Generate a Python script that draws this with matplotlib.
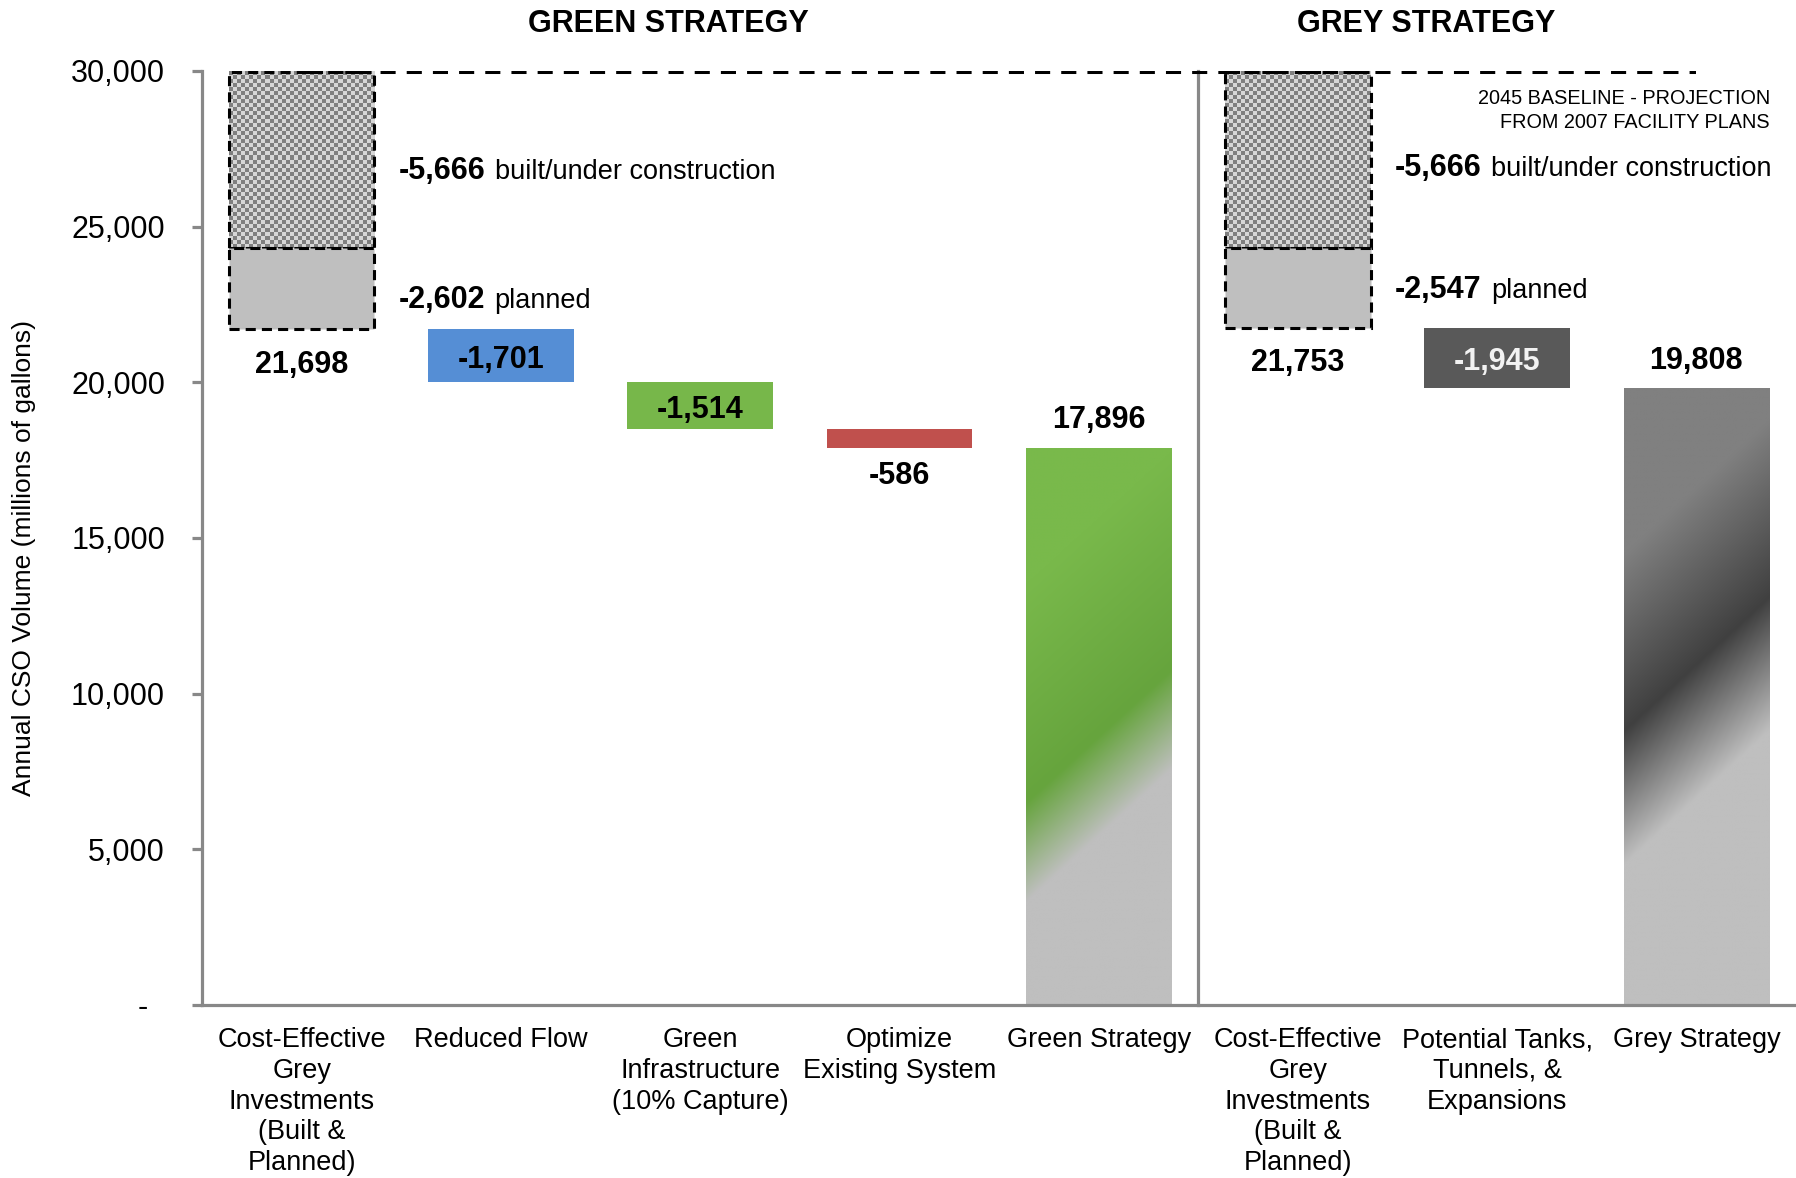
import numpy as np
import matplotlib
matplotlib.use("Agg")
import matplotlib.pyplot as plt
from matplotlib.colors import to_rgb, ListedColormap
from matplotlib.transforms import blended_transform_factory

plt.rcParams["font.family"] = ["Liberation Sans", "DejaVu Sans"]

# ---- data ----
categories = [
    "Cost-Effective\nGrey\nInvestments\n(Built &\nPlanned)",
    "Reduced Flow",
    "Green\nInfrastructure\n(10% Capture)",
    "Optimize\nExisting System",
    "Green Strategy",
    "Cost-Effective\nGrey\nInvestments\n(Built &\nPlanned)",
    "Potential Tanks,\nTunnels, &\nExpansions",
    "Grey Strategy",
]
baseline_2045 = 29966
built_reduction = [5666, 5666]          # green, grey
planned_reduction = [2602, 2547]        # green, grey
green_steps = [1701, 1514, 586]
green_step_colors = ["#558ED5", "#77B74A", "#C0504D"]
green_total = 17896
grey_steps = [1945]
grey_step_colors = ["#595959"]
grey_total = 19808
ytick_values = [0, 5000, 10000, 15000, 20000, 25000, 30000]
ytick_labels = ["-  ", "5,000", "10,000", "15,000", "20,000", "25,000", "30,000"]

PX = 0.72  # points per pixel at 100 dpi
W = 0.73
NUDGE = -4.5 * PX  # visual centring of bold numerals

fig = plt.figure(figsize=(17.96, 11.78), dpi=100)
ax = fig.add_axes([0.1125, 0.1469, 0.8875, 0.7929])
ax.set_xlim(-0.5, 7.5)
ax.set_ylim(0, 30000)

dash_box = (0, (3.3, 2.0))


def checker_fill(ax, patch, cell_px=4):
    x0, y0 = patch.get_x(), patch.get_y()
    w, h = patch.get_width(), patch.get_height()
    p0 = ax.transData.transform((x0, y0))
    p1 = ax.transData.transform((x0 + w, y0 + h))
    nx = max(1, int(round(abs(p1[0] - p0[0]) / cell_px)))
    ny = max(1, int(round(abs(p1[1] - p0[1]) / cell_px)))
    grid = np.add.outer(np.arange(ny), np.arange(nx)) % 2
    ax.imshow(grid, cmap=ListedColormap(["#D6D6D6", "#7F7F7F"]),
              extent=[x0, x0 + w, y0, y0 + h], origin="lower",
              interpolation="nearest", aspect="auto", zorder=2)


def gradient_fill(ax, patch, stops, shift, n=500):
    x0, y0 = patch.get_x(), patch.get_y()
    w, h = patch.get_width(), patch.get_height()
    frac = np.linspace(0, 1, 150)
    vals = np.linspace(y0, y0 + h, n)
    t = vals[:, None] - shift * frac[None, :]
    pos = [s[0] for s in stops]
    cols = np.array([to_rgb(s[1]) for s in stops])
    rgb = np.stack([np.interp(t, pos, cols[:, c]) for c in range(3)], axis=-1)
    im = ax.imshow(rgb, extent=[x0, x0 + w, y0, y0 + h], origin="lower",
                   aspect="auto", interpolation="bilinear", zorder=2)
    im.set_clip_path(patch)


def bold_plus_text(ax, x, y, bold, rest, dy_pts):
    t1 = ax.annotate(bold, xy=(x, y), xytext=(0, dy_pts), textcoords="offset points",
                     ha="left", va="baseline", fontsize=22, fontweight="bold")
    ax.annotate(rest, xy=(1, y), xycoords=(t1, "data"), xytext=(7, dy_pts),
                textcoords="offset points", ha="left", va="baseline", fontsize=19.5)


# ---- cost-effective grey investment bars (both strategies) ----
built_label_dy = [-19, -16]
planned_label_dy = [-19, -10]
for i, xpos in enumerate([0, 5]):
    mid = baseline_2045 - built_reduction[i]
    bottom = mid - planned_reduction[i]
    built_bar = ax.bar(xpos, built_reduction[i], bottom=mid, width=W, color="none",
                       edgecolor="black", linestyle=dash_box, linewidth=2.2, zorder=3)[0]
    checker_fill(ax, built_bar)
    ax.bar(xpos, planned_reduction[i], bottom=bottom, width=W, color="#BFBFBF",
           edgecolor="black", linestyle=dash_box, linewidth=2.2, zorder=3)
    lx = xpos + W / 2 + 0.12
    bold_plus_text(ax, lx, mid + built_reduction[i] / 2, f"-{built_reduction[i]:,}",
                   "built/under construction", built_label_dy[i] * PX)
    bold_plus_text(ax, lx, bottom + planned_reduction[i] / 2, f"-{planned_reduction[i]:,}",
                   "planned", planned_label_dy[i] * PX)
    ax.annotate(f"{bottom:,}", xy=(xpos, bottom), xytext=(0, -31 * PX + NUDGE),
                textcoords="offset points", ha="center", va="center",
                fontsize=22, fontweight="bold")


def waterfall(ax, start_x, start_level, steps, colors, text_color):
    level = start_level
    for k, (step, col) in enumerate(zip(steps, colors)):
        xpos = start_x + k
        ax.bar(xpos, step, bottom=level - step, width=W, color=col, zorder=3)
        if step > 1000:
            ax.annotate(f"-{step:,}", xy=(xpos, level - step / 2), xytext=(0, NUDGE),
                        textcoords="offset points", ha="center", va="center",
                        fontsize=22, fontweight="bold", color=text_color, zorder=4)
        else:
            ax.annotate(f"-{step:,}", xy=(xpos, level - step), xytext=(0, -24 * PX + NUDGE),
                        textcoords="offset points", ha="center", va="center",
                        fontsize=22, fontweight="bold")
        level -= step


green_start = baseline_2045 - built_reduction[0] - planned_reduction[0]
grey_start = baseline_2045 - built_reduction[1] - planned_reduction[1]
waterfall(ax, 1, green_start, green_steps, green_step_colors, "black")
waterfall(ax, 6, grey_start, grey_steps, grey_step_colors, "#F2F2F2")

# ---- strategy totals with shaded fills ----
green_bar = ax.bar(4, green_total, width=W, color="none", zorder=3)[0]
gradient_fill(ax, green_bar,
              [(-1e5, "#BFBFBF"), (3300, "#BFBFBF"), (6500, "#66A43D"),
               (13500, "#79B94B"), (1e5, "#79B94B")], shift=4250)
grey_bar = ax.bar(7, grey_total, width=W, color="none", zorder=3)[0]
gradient_fill(ax, grey_bar,
              [(-1e5, "#BFBFBF"), (4500, "#BFBFBF"), (8800, "#404040"),
               (14500, "#808080"), (1e5, "#808080")], shift=4300)
for xpos, total in [(4, green_total), (7, grey_total)]:
    ax.annotate(f"{total:,}", xy=(xpos, total), xytext=(0, 32 * PX + NUDGE),
                textcoords="offset points", ha="center", va="center",
                fontsize=22, fontweight="bold")

# ---- 2045 baseline ----
ax.plot([0, 7], [baseline_2045, baseline_2045], color="black", linewidth=2.9,
        linestyle=(0, (3.75, 2.75)), zorder=4, solid_capstyle="butt")
ax.text(0.9837, 0.9578, "2045 BASELINE - PROJECTION\nFROM 2007 FACILITY PLANS",
        transform=ax.transAxes, ha="right", va="center", ma="right",
        fontsize=14.3, linespacing=1.32)

# divider between the two strategies
ax.plot([4.5, 4.5], [0, 30000], color="#888888", linewidth=2.3, zorder=1, clip_on=False)

# titles
trans = blended_transform_factory(ax.transData, ax.transAxes)
ax.text(1.84, 1.050, "GREEN STRATEGY", transform=trans, ha="center", va="center",
        fontsize=22, fontweight="bold")
ax.text(5.645, 1.050, "GREY STRATEGY", transform=trans, ha="center", va="center",
        fontsize=22, fontweight="bold")

# ---- axes styling ----
ax.set_xlim(-0.5, 7.5)
ax.set_ylim(0, 30000)
for side in ["top", "right"]:
    ax.spines[side].set_visible(False)
for side in ["left", "bottom"]:
    ax.spines[side].set_color("#888888")
    ax.spines[side].set_linewidth(2.3)
ax.set_yticks(ytick_values)
ax.set_yticklabels(ytick_labels)
ax.set_xticks(range(len(categories)))
ax.set_xticklabels(categories)
for lbl in ax.get_xticklabels():
    lbl.set_linespacing(1.235)
ax.tick_params(axis="y", length=7.2, width=2.3, color="#888888", pad=19.5, labelsize=22)
ax.tick_params(axis="x", length=0, pad=16, labelsize=19.5)
ax.set_ylabel("Annual CSO Volume (millions of gallons)", fontsize=19)
ax.yaxis.set_label_coords(-0.104, 0.479)

fig.savefig("out.png", dpi=100)
